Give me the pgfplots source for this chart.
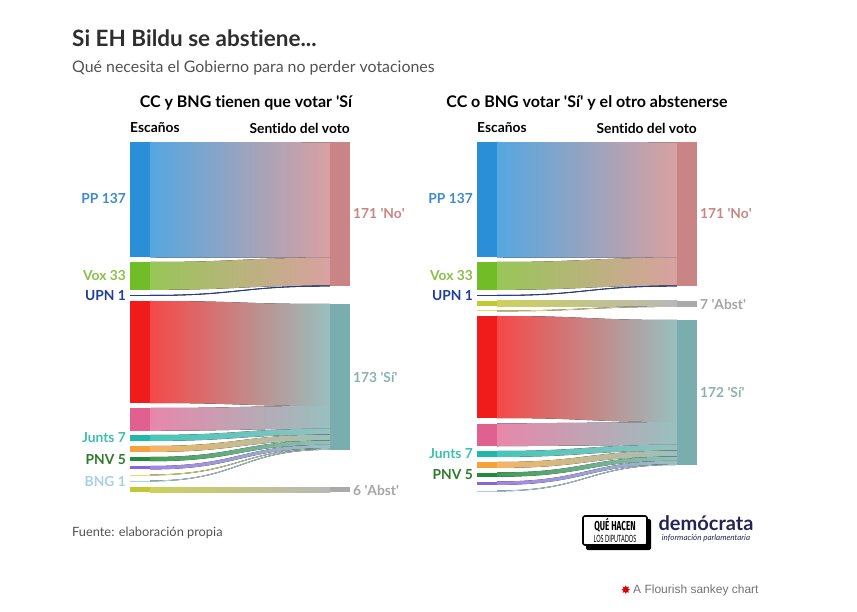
\documentclass[border=0pt]{standalone}
\usepackage{pgfplots}
\pgfplotsset{compat=1.18}
\usepackage{fontspec}
\setmainfont{Lato}[Ligatures={TeX,NoCommon}]
\newfontfamily\arialf{Liberation Sans}
\newfontfamily\dejavu{DejaVu Sans}
\newfontfamily\condf{Fira Sans}

% colours
\definecolor{ppN}{HTML}{2A8FD6}\definecolor{ppF}{HTML}{55A7E0}
\definecolor{voxN}{HTML}{72BC28}\definecolor{voxF}{HTML}{98C657}
\definecolor{upn}{HTML}{1E3E9A}
\definecolor{psoeN}{HTML}{F01B1B}\definecolor{psoeF}{HTML}{F64848}
\definecolor{sumN}{HTML}{E0618F}\definecolor{sumF}{HTML}{E887AA}
\definecolor{juntsN}{HTML}{22B8A8}\definecolor{juntsF}{HTML}{40C8BA}
\definecolor{ercN}{HTML}{F4A23C}\definecolor{ercF}{HTML}{F5B562}
\definecolor{pnvN}{HTML}{1F8C3B}\definecolor{pnvF}{HTML}{3E9D52}
\definecolor{podN}{HTML}{8A63E0}\definecolor{podF}{HTML}{A283EA}
\definecolor{cc}{HTML}{F2D864}
\definecolor{bng}{HTML}{A9CFE9}
\definecolor{bilN}{HTML}{C2C734}\definecolor{bilF}{HTML}{CCD15B}
\definecolor{noN}{HTML}{C98585}\definecolor{noF}{HTML}{D9A1A1}
\definecolor{siN}{HTML}{7AADAD}\definecolor{siF}{HTML}{98C0BF}
\definecolor{abN}{HTML}{AAAAAA}\definecolor{abF}{HTML}{B8B8B8}
\definecolor{lblPP}{HTML}{3D8CCD}\definecolor{lblVox}{HTML}{8CBF4A}
\definecolor{lblJunts}{HTML}{3DBFB0}\definecolor{lblPNV}{HTML}{2C7A2C}
\definecolor{lblSi}{HTML}{8AB2B2}\definecolor{lblAb}{HTML}{A5A5A5}
\definecolor{navy}{HTML}{232356}

\def\k{0.843}% pixels per seat
% ribbon: x0, x1, source top, target top, seats, colour A, colour B
\newcommand{\flow}[7]{%
 \fill[left color=#6, right color=#7]
  (axis cs:#1,#3) .. controls (axis cs:{(#1+#2)/2},#3) and (axis cs:{(#1+#2)/2},#4) .. (axis cs:#2,#4)
  -- (axis cs:#2,{#4+#5*\k})
  .. controls (axis cs:{(#1+#2)/2},{#4+#5*\k}) and (axis cs:{(#1+#2)/2},{#3+#5*\k}) .. (axis cs:#1,{#3+#5*\k})
  -- cycle;}
% node bar: x0, x1, top, seats, colour
\newcommand{\nodebar}[5]{%
 \fill[#5] (axis cs:#1,#3) rectangle (axis cs:#2,{#3+#4*\k});}
\newcommand{\lbl}[4]{\node[anchor=#1, inner sep=0, text=#3] at (axis cs:#2) {\fontsize{13.8}{16}\selectfont\bfseries #4};}

\begin{document}
\begin{tikzpicture}
\begin{axis}[hide axis, scale only axis, width=857pt, height=612pt,
  xmin=0, xmax=857, ymin=0, ymax=612, y dir=reverse, clip=false]
\addplot[draw=none] coordinates {(0,0) (857,612)};

% ---------- LEFT: CC y BNG votan Si ----------
\flow{150}{330}{142}{142.3}{137}{ppF}{noF}
\flow{150}{330}{262}{257.79}{33}{voxF}{noF}
\flow{150}{330}{295}{285.61}{1}{upn}{upn}
\flow{150}{330}{301}{304}{121}{psoeF}{siF}
\flow{150}{330}{408}{406.0}{27}{sumF}{siF}
\flow{150}{330}{435}{428.76}{7}{juntsF}{siF}
\flow{150}{330}{446}{434.66}{7}{ercF}{siF}
\flow{150}{330}{457}{440.56}{5}{pnvF}{siF}
\flow{150}{330}{466}{444.78}{4}{podF}{siF}
\flow{150}{330}{474.5}{448.15}{1}{cc}{siF}
\flow{150}{330}{480.5}{448.99}{1}{bng}{siF}
\flow{150}{330}{487}{487}{6}{bilF}{abF}
\nodebar{130}{150}{142}{137}{ppN}
\nodebar{130}{150}{262}{33}{voxN}
\nodebar{130}{150}{295}{1}{upn}
\nodebar{130}{150}{301}{121}{psoeN}
\nodebar{130}{150}{408}{27}{sumN}
\nodebar{130}{150}{435}{7}{juntsN}
\nodebar{130}{150}{446}{7}{ercN}
\nodebar{130}{150}{457}{5}{pnvN}
\nodebar{130}{150}{466}{4}{podN}
\nodebar{130}{150}{474.5}{1}{cc}
\nodebar{130}{150}{480.5}{1}{bng}
\nodebar{130}{150}{487}{6}{bilN}
\nodebar{330}{350}{142.3}{171}{noN}
\nodebar{330}{350}{304}{173}{siN}
\nodebar{330}{350}{487}{6}{abN}

% ---------- RIGHT: CC o BNG votan Si, el otro se abstiene ----------
\flow{497}{677}{142}{142.3}{137}{ppF}{noF}
\flow{497}{677}{262}{257.79}{33}{voxF}{noF}
\flow{497}{677}{295}{285.61}{1}{upn}{upn}
\flow{497}{677}{301}{301}{6}{bilF}{abF}
\flow{497}{677}{310.5}{306.06}{1}{cc}{abF}
\flow{497}{677}{316}{320}{121}{psoeF}{siF}
\flow{497}{677}{423.5}{422.0}{27}{sumF}{siF}
\flow{497}{677}{451}{444.76}{7}{juntsF}{siF}
\flow{497}{677}{462}{450.66}{7}{ercF}{siF}
\flow{497}{677}{472.5}{456.56}{5}{pnvF}{siF}
\flow{497}{677}{481.5}{460.78}{4}{podF}{siF}
\flow{497}{677}{490.5}{464.15}{1}{bng}{siF}
\nodebar{477}{497}{142}{137}{ppN}
\nodebar{477}{497}{262}{33}{voxN}
\nodebar{477}{497}{295}{1}{upn}
\nodebar{477}{497}{301}{6}{bilN}
\nodebar{477}{497}{310.5}{1}{cc}
\nodebar{477}{497}{316}{121}{psoeN}
\nodebar{477}{497}{423.5}{27}{sumN}
\nodebar{477}{497}{451}{7}{juntsN}
\nodebar{477}{497}{462}{7}{ercN}
\nodebar{477}{497}{472.5}{5}{pnvN}
\nodebar{477}{497}{481.5}{4}{podN}
\nodebar{477}{497}{490.5}{1}{bng}
\nodebar{677}{697}{142.3}{171}{noN}
\nodebar{677}{697}{301}{7}{abN}
\nodebar{677}{697}{320}{172}{siN}

% ---------- texts ----------
\node[anchor=west, inner sep=0, text=black!82] at (axis cs:72,38) {\fontsize{22.5}{26}\selectfont\bfseries Si EH Bildu se abstiene...};
\node[anchor=west, inner sep=0, text=black!68] at (axis cs:72,68) {\fontsize{15.9}{19}\selectfont Qué necesita el Gobierno para no perder votaciones};
\node[inner sep=0] at (axis cs:246,103) {\fontsize{16}{19}\selectfont\bfseries CC y BNG tienen que votar \textquotesingle Sí};
\node[inner sep=0] at (axis cs:587,103) {\fontsize{16}{19}\selectfont\bfseries CC o BNG votar \textquotesingle Sí\textquotesingle{} y el otro abstenerse};
\lbl{west}{130,128}{black}{Escaños}
\lbl{east}{350,128}{black}{Sentido del voto}
\lbl{west}{477,128}{black}{Escaños}
\lbl{east}{697,128}{black}{Sentido del voto}
% source labels
\lbl{east}{126,199}{lblPP}{PP 137}
\lbl{east}{126,276}{lblVox}{Vox 33}
\lbl{east}{126,296}{upn}{UPN 1}
\lbl{east}{126,438}{lblJunts}{Junts 7}
\lbl{east}{126,460}{lblPNV}{PNV 5}
\lbl{east}{126,482}{bng}{BNG 1}
\lbl{east}{473,199}{lblPP}{PP 137}
\lbl{east}{473,276}{lblVox}{Vox 33}
\lbl{east}{473,296}{upn}{UPN 1}
\lbl{east}{473,454}{lblJunts}{Junts 7}
\lbl{east}{473,475}{lblPNV}{PNV 5}
% target labels
\lbl{west}{353,214}{noN}{171 \textquotesingle No\textquotesingle}
\lbl{west}{353,378}{lblSi}{173 \textquotesingle Sí\textquotesingle}
\lbl{west}{353,490}{lblAb}{6 \textquotesingle Abst\textquotesingle}
\lbl{west}{700,214}{noN}{171 \textquotesingle No\textquotesingle}
\lbl{west}{700,304}{lblAb}{7 \textquotesingle Abst\textquotesingle}
\lbl{west}{700,393}{lblSi}{172 \textquotesingle Sí\textquotesingle}

% footer
\node[anchor=west, inner sep=0, text=black!68] at (axis cs:72,533) {\fontsize{12.8}{15}\selectfont Fuente: elaboración propia};
% logo 1
\fill[black, rounded corners=2pt] (axis cs:586,519) rectangle (axis cs:651,550);
\draw[black, line width=1.6pt, fill=white, rounded corners=2pt] (axis cs:583,516) rectangle (axis cs:647,545);
\node[inner sep=0, align=center] at (axis cs:615,530.5) {\condf\fontsize{13}{12}\selectfont\bfseries\scalebox{0.62}[1]{QUÉ HACEN}\\[0pt]\scalebox{0.55}[1]{LOS DIPUTADOS}};
% logo 2
\node[inner sep=0, text=navy] at (axis cs:706,523) {\fontsize{20}{22}\selectfont\bfseries demócrata};
\node[inner sep=0, text=navy] at (axis cs:706,538) {\fontsize{8}{9}\selectfont\itshape información parlamentaria};
% flourish credit
\node[inner sep=0, text=red!85!black] at (axis cs:626,590) {\dejavu\fontsize{12}{12}\selectfont ✸};
\node[anchor=west, inner sep=0, text=black!55] at (axis cs:633,590) {\arialf\fontsize{12}{14}\selectfont A Flourish sankey chart};
\end{axis}
\end{tikzpicture}
\end{document}
